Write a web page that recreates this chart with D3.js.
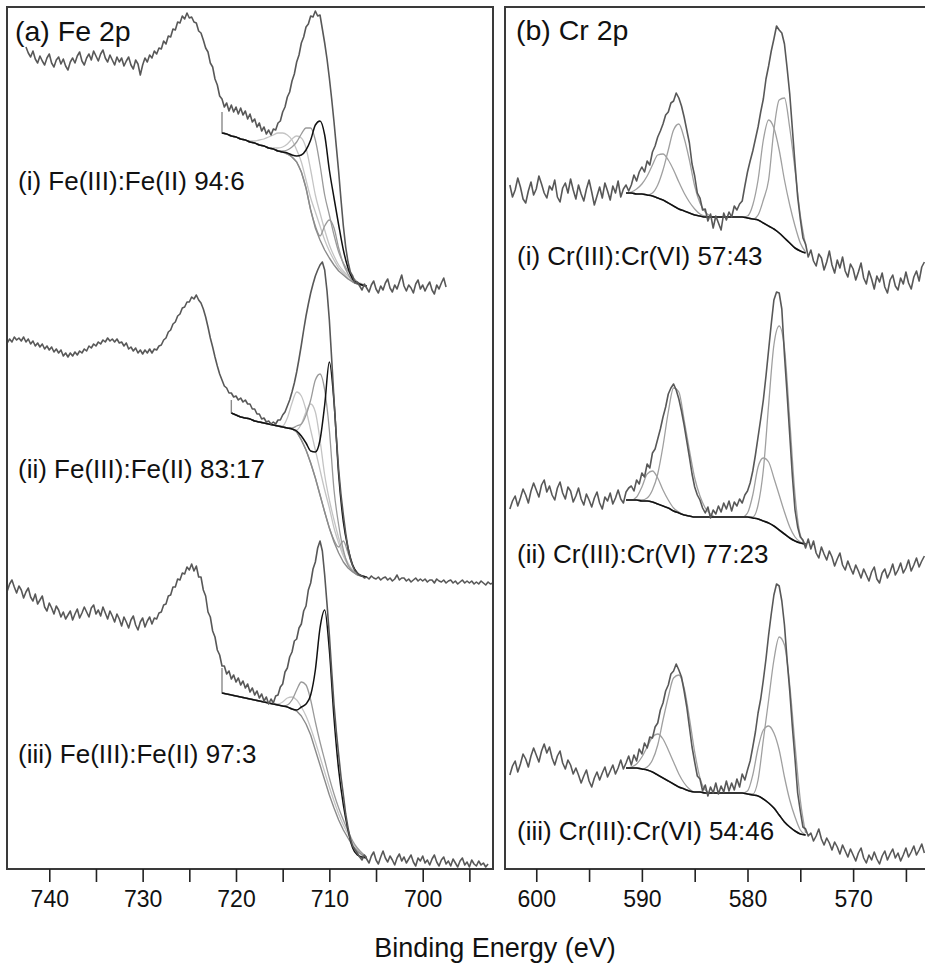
<!DOCTYPE html>
<html><head><meta charset="utf-8">
<script src="https://cdn.jsdelivr.net/npm/d3@7"></script>
<style>
body{margin:0;background:#fff;}
svg{display:block;font-family:"Liberation Sans",Arial,Helvetica,sans-serif;}
</style></head>
<body>
<svg id="chart" width="925" height="972"></svg>
<script>
// ---------------- DATA (intensity in arbitrary units, spectra stacked) ----------------
const RAW_STEP = 0.25;   // eV between raw data points
const FIT_STEP = 0.5;    // eV between fit-curve points

// Fe 2p raw spectra: start energy (eV) and intensities toward lower binding energy
const feRawStart = [742.5, 744.5, 744.5];
const feRawI = [
 [822,816, 812,818,810,806, 813,808,804,811, 815,806,802,809, 812,805,810,803, 799,807,811,806, 813,817,808,804, 811,815,809,818,
  813,808,815,819, 811,807,814,809, 804,812,807,811, 803,808,812,804, 800,809,805,794, 804,811,807,814, 811,818,815,821,
  820,828,825,833, 832,840,839,847, 846,853,850,856, 851,852,847,846, 838,836,829,821, 817,806,802,790, 784,773,770,762,
  766,758,764,757, 762,755,761,754, 758,750,755,747, 750,742,746,738, 742,735,739,734, 740,739,746,748, 757,762,772,777,
  788,795,807,814, 826,832,842,845, 853,852,858,853, 854,840,826,810, 791,770,747,722, 697,669,643,622, 607,597,593,586,
  587,583,579,585, 581,577,584,588, 580,576,583,579, 586,590,581,577, 584,580,587,594, 583,578,584,581, 576,585,589,580,
  584,578,583,587, 579,575,584,580, 586,591,582],
 [526,530, 527,532,529,531, 528,532,527,530, 525,528,523,526, 522,525,520,523, 519,522,517,520, 516,519,513,516, 512,516,513,517,
  514,518,516,520, 518,523,521,525, 523,527,525,529, 527,531,528,530, 527,530,526,527, 523,526,520,522, 518,521,516,519,
  515,519,516,520, 516,520,519,523, 524,529,531,537, 539,545,547,553, 555,561,562,567, 567,572,570,574, 569,566,560,552,
  542,531,522,512, 503,495,489,483, 481,476,476,472, 473,469,471,467, 469,465,465,460, 460,455,455,450, 451,447,448,445,
  447,445,449,449, 454,457,463,469, 477,486,497,510, 524,539,553,565, 576,585,593,599, 604,607,599,578, 549,510,469,432,
  399,374,354,336, 321,310,303,298, 296,294,293,291, 292,290,293,291, 290,292,289,291, 292,289,291,288, 290,294,289,291,
  291,288,290,287, 289,291,288,290, 288,290,287,289, 289,286,290,288, 287,289,286,288, 289,286,288,285, 287,289,286,288,
  286,288,285,287, 285,288,286,284, 287,285,286,284],
 [278,285, 289,282,276,283, 279,271,277,281, 272,268,275,265, 269,273,262,258, 266,261,255,263, 259,252,257,250, 254,258,249,255,
  260,251,256,262, 257,252,261,264, 255,259,253,262, 256,250,258,253, 247,255,250,243, 252,247,241,249, 253,244,239,247,
  251,242,248,252, 245,251,250,256, 257,264,265,273, 274,282,282,290, 289,296,295,302, 299,305,298,303, 292,292,279,273,
  257,252,238,232, 219,214,203,203, 195,198,190,194, 187,191,184,188, 181,185,177,181, 174,178,171,175, 168,172,165,170,
  166,173,174,182, 185,197,201,212, 217,228,230,241, 245,258,263,279, 286,300,307,321, 328,318,294,265, 234,198,164,137,
  114,92,74,55, 41,30,23,19, 16,12,9,14, 10,6,13,17, 9,5,12,18, 11,7,13,9, 4,11,15,8, 12,6,10,14, 7,3,11,8,
  13,6,9,4, 10,14,7,3, 9,12,5,8, 3,10,6,2, 8,11,4,7, 2,9,5,3, 8,4,6,2, 5]
];
// Fe 2p fit: energy grid start (eV), Shirley background anchor, background and components
const feFitStart = [721.5, 720.5, 721.5];
const feBgAnchor = [757, 469, 201];
const feBg = [
 [736,735,733,732,730,729,727,726,724,723,721,720,718,717,715,712,707,697,681,659,641,629,619,611,604,598,594,590,587,585,584,583],
 [456,454,452,451,450,448,447,446,445,444,443,442,441,440,437,429,419,406,391,374,357,341,327,316,307,301,297,294,293,292],
 [176,175,174,173,172,171,170,169,168,167,166,165,164,163,162,160,158,153,145,134,119,104,89,74,61,49,39,31,23,18,14,12]
];
// light grey components
const feLight = [
 [
  [736,735,733,732,730,729,728,728,729,730,732,734,736,736,734,729,719,707,689,671,657,643,629,618,609,601,596,591,588,585,584,583],
  [736,735,733,732,730,729,727,726,724,723,721,721,721,722,725,730,733,731,721,699,674,656,639,624,613,604,598,593,589,586,584,583]
 ],
 [
  [456,454,452,451,450,448,447,446,445,444,443,443,451,466,477,473,459,439,419,399,379,361,341,326,313,304,299,295,293,292],
  [456,454,452,451,450,448,447,446,445,444,443,442,441,440,439,445,457,465,457,429,394,369,349,331,316,306,299,295,293,292]
 ],
 [
  [176,175,174,173,172,171,170,169,168,167,166,165,165,167,171,172,169,162,153,141,127,112,97,82,68,55,44,35,26,20,15,12]
 ]
];
// mid grey components
const feMid = [
 [
  [736,735,733,732,730,729,727,726,724,723,721,720,718,718,719,722,727,735,741,741,729,704,674,654,634,617,606,598,592,587,585,583],
  [736,735,733,732,730,729,727,726,724,723,721,720,718,717,715,712,707,697,681,659,643,633,643,649,641,621,605,595,588,585,584,583]
 ],
 [
  [456,454,452,451,450,448,447,446,445,444,443,442,441,441,443,445,454,469,489,495,479,439,379,344,319,304,298,294,293,292],
  [456,454,452,451,450,448,447,446,445,444,443,442,441,440,437,429,419,406,391,374,357,341,329,322,328,316,303,296,293,292]
 ],
 [
  [176,175,174,173,172,171,170,169,168,167,166,165,164,163,164,169,179,187,184,169,147,127,109,91,75,61,49,38,28,21,16,12]
 ]
];
// black (Fe(II)-type) component
const feBlack = [
 [736,735,733,732,730,729,727,726,724,723,721,720,718,717,716,714,713,714,719,729,744,748,734,699,671,644,619,601,590,586,584,583],
 [456,454,452,451,450,448,447,446,445,444,443,442,441,440,438,433,426,418,417,429,464,507,467,394,347,321,304,296,293,292],
 [176,175,174,173,172,171,170,169,168,167,166,165,164,163,162,160,159,162,165,174,199,241,259,219,151,99,64,39,21,14,12,11]
];

// Cr 2p raw spectra: start 602.5 eV, every 0.25 eV
const crRawStart = [602.5, 602.5, 602.5];
const crRawI = [
 [684,672, 679,691,682,670, 666,678,687,674, 680,693,685,676, 671,683,679,689, 672,667,681,686, 676,690,679,670, 684,675,668,680,
  689,677,664,673, 682,671,686,678, 669,683,676,688, 672,680,684,678, 684,694,688,697, 702,697,708,704, 717,723,732,738,
  745,754,757,766, 768,776,771,763, 752,739,726,705, 693,676,671,659, 660,648,655,641, 653,646,639,656, 649,657,652,663,
  659,665,668,683, 697,708,718,730, 742,757,770,790, 803,818,830,843, 839,836,825,801, 775,740,705,672, 650,631,625,612,
  619,608,603,615, 611,599,607,618, 604,596,609,601, 612,598,592,605, 600,589,597,606, 591,585,598,590, 580,593,587,596,
  582,576,589,594, 583,579,591,585, 597,586,580,592, 598,588,602,607],
 [360,368, 373,363,371,380, 374,366,378,386, 379,372,384,389, 377,383,374,369, 381,387,376,370, 382,378,367,373, 381,370,364,375,
  369,362,371,377, 366,360,372,368, 376,365,371,379, 370,366,377,381, 383,378,389,385, 396,392,405,401, 416,420,430,440,
  452,462,475,481, 485,479,470,458, 444,428,412,395, 382,374,369,361, 356,362,351,359, 355,363,357,366, 360,368,358,367,
  363,370,366,374, 378,386,398,414, 432,450,469,493, 519,545,569,577, 576,560,514,475, 434,393,359,342, 332,329,321,330,
  320,328,316,311, 322,315,309,318, 312,303,310,316, 304,299,308,301, 295,304,298,291, 300,294,288,297, 302,290,286,296,
  300,291,297,305, 294,299,306,296, 301,309,298,304, 311,302,308,313],
 [94,103, 108,97,105,115, 110,102,113,121, 114,107,118,125, 116,122,111,104, 113,118,106,100, 109,104,95,101, 94,86,93,99,
  88,82,91,97, 89,96,102,92, 98,104,95,101, 109,100,106,113, 104,114,108,120, 115,126,121,132, 131,142,146,159,
  166,178,184,195, 198,205,199,192, 178,162,142,122, 107,93,90,78, 84,73,82,76, 86,75,83,77, 88,78,86,79,
  90,82,95,89, 99,108,122,137, 156,170,189,210, 234,255,274,285, 283,268,244,209, 178,142,110,76, 58,42,40,33,
  36,28,33,40, 30,24,31,26, 19,27,22,15, 24,18,12,20, 14,8,16,21, 11,6,14,9, 17,10,5,13,
  18,9,15,20, 11,16,8,14, 21,12,17,23, 14,19,25,16]
];
// Cr 2p fit grid: 591.5 -> 574.5 eV every 0.5 eV
const crFitStart = 591.5;
const crBg = [
 [676,676,675,675,674,673,671,669,666,663,660,658,656,654,653,652,652,652,652,652,652,652,652,651,650,649,646,643,640,636,631,626,621,618,616],
 [369,369,369,368,368,367,365,363,361,358,356,354,353,352,352,352,352,352,352,352,352,352,352,352,351,350,348,346,343,339,335,331,328,326,325],
 [101,101,101,100,99,97,94,91,88,85,82,80,78,77,77,76,76,76,76,76,76,76,76,75,74,73,70,66,61,54,47,42,38,35,34]
];
// components: Cr(VI) 2p1/2, Cr(III) 2p1/2, Cr(VI) 2p3/2, Cr(III) 2p3/2
const crComp = [
 [
  [676,677,680,685,693,704,714,715,709,699,687,676,667,660,655,653,652,652,652,652,652,652,652,651,650,649,646,643,640,636,631,626,621,618,616],
  [676,676,675,675,674,676,684,699,719,739,745,731,709,683,666,657,653,652,652,652,652,652,652,651,650,649,646,643,640,636,631,626,621,618,616],
  [676,676,675,675,674,673,671,669,666,663,660,658,656,654,653,652,652,652,652,652,652,652,652,653,664,689,729,749,741,719,689,664,643,626,617],
  [676,676,675,675,674,673,671,669,666,663,660,658,656,654,653,652,652,652,652,652,652,652,652,651,650,654,669,689,739,769,771,741,699,654,624]
 ],
 [
  [369,369,372,382,395,398,391,379,369,361,357,354,353,352,352,352,352,352,352,352,352,352,352,352,351,350,348,346,343,339,335,331,328,326,325],
  [369,369,369,369,371,379,395,423,457,481,477,449,419,391,373,361,355,352,352,352,352,352,352,352,351,350,348,346,343,339,335,331,328,326,325],
  [369,369,369,368,368,367,365,363,361,358,356,354,353,352,352,352,352,352,352,352,352,352,352,356,374,402,411,407,391,374,357,342,332,327,325],
  [369,369,369,368,368,367,365,363,361,358,356,354,353,352,352,352,352,352,352,352,352,352,352,352,352,364,399,464,524,543,521,449,374,334,325]
 ],
 [
  [101,102,105,112,122,132,135,130,119,107,95,86,80,77,77,76,76,76,76,76,76,76,76,75,74,73,70,66,61,54,47,42,38,35,34],
  [101,101,101,100,102,109,124,149,172,191,194,181,151,117,91,79,76,76,76,76,76,76,76,75,74,73,70,66,61,54,47,42,38,35,34],
  [101,101,101,100,99,97,94,91,88,85,82,80,78,77,77,76,76,76,76,76,76,76,76,78,94,121,139,143,136,119,92,69,52,39,34],
  [101,101,101,100,99,97,94,91,88,85,82,80,78,77,77,76,76,76,76,76,76,76,76,75,75,89,129,169,209,232,224,184,124,69,36]
 ]
];

const panelTitles = ["(a) Fe 2p", "(b) Cr 2p"];
const feLabels = ["(i) Fe(III):Fe(II) 94:6", "(ii) Fe(III):Fe(II) 83:17", "(iii) Fe(III):Fe(II) 97:3"];
const crLabels = ["(i) Cr(III):Cr(VI) 57:43", "(ii) Cr(III):Cr(VI) 77:23", "(iii) Cr(III):Cr(VI) 54:46"];
const feLabelLevels = [679, 391, 106];   // intensity level of label baseline
const crLabelLevels = [604, 306, 29];
const feTicks = [740,735,730,725,720,715,710,705,700,695];
const crTicks = [600,595,590,585,580,575,570,565];
const xTitle = "Binding Energy (eV)";

// ---------------- LAYOUT ----------------
(function(){
const svg = d3.select("#chart");
const topY = 7, bottomY = 869;
const y = d3.scaleLinear().domain([0, 862]).range([bottomY, topY]);
const xFe = d3.scaleLinear().domain([744.53, 692.47]).range([7, 493]);
const xCr = d3.scaleLinear().domain([602.96, 562.72]).range([505, 930]);

const col = {raw:"#585858", light:"#c4c4c4", mid:"#9a9a9a", feBg:"#8a8a8a", black:"#111", crBg:"#111", crComp:"#a0a0a0", frame:"#3a3a3a"};

const defs = svg.append("defs");
defs.append("clipPath").attr("id","clipFe").append("rect").attr("x",8).attr("y",topY+1).attr("width",484).attr("height",bottomY-topY-2);
defs.append("clipPath").attr("id","clipCr").append("rect").attr("x",506).attr("y",topY+1).attr("width",430).attr("height",bottomY-topY-2);

function series(start, step, vals){ return vals.map((v,i)=>({e:start - i*step, v:v})); }
function drawLine(g, x, data, color, width, curve){
  g.append("path").datum(data)
   .attr("fill","none").attr("stroke",color).attr("stroke-width",width)
   .attr("stroke-linejoin","round")
   .attr("d", d3.line().x(d=>x(d.e)).y(d=>y(d.v)).curve(curve||d3.curveLinear));
}

// ---- Fe panel ----
const gFe = svg.append("g").attr("clip-path","url(#clipFe)");
for(let s=0;s<3;s++){
  const st = feFitStart[s];
  feLight[s].forEach(c=>drawLine(gFe,xFe,series(st,FIT_STEP,c),col.light,1.3,d3.curveMonotoneX));
  feMid[s].forEach(c=>drawLine(gFe,xFe,series(st,FIT_STEP,c),col.mid,1.3,d3.curveMonotoneX));
  const bg = series(st, FIT_STEP, feBg[s]);
  drawLine(gFe,xFe,[{e:st,v:feBgAnchor[s]}].concat(bg),col.feBg,1.4,d3.curveLinear);
  drawLine(gFe,xFe,series(st,FIT_STEP,feBlack[s]),col.black,1.5,d3.curveMonotoneX);
  drawLine(gFe,xFe,series(feRawStart[s],RAW_STEP,feRawI[s]),col.raw,1.6,d3.curveLinear);
}
// ---- Cr panel ----
const gCr = svg.append("g").attr("clip-path","url(#clipCr)");
for(let s=0;s<3;s++){
  crComp[s].forEach(c=>drawLine(gCr,xCr,series(crFitStart,FIT_STEP,c),col.crComp,1.3,d3.curveMonotoneX));
  drawLine(gCr,xCr,series(crFitStart,FIT_STEP,crBg[s]),col.crBg,1.6,d3.curveMonotoneX);
  drawLine(gCr,xCr,series(crRawStart[s],RAW_STEP,crRawI[s]),col.raw,1.6,d3.curveLinear);
}

// frames
svg.append("rect").attr("x",7).attr("y",topY).attr("width",486).attr("height",bottomY-topY)
  .attr("fill","none").attr("stroke",col.frame).attr("stroke-width",2);
svg.append("path").attr("d",`M930,${topY}H505V${bottomY}H930`)
  .attr("fill","none").attr("stroke",col.frame).attr("stroke-width",2);

// axes
function axis(x, ticks){
  const a = d3.axisBottom(x).tickValues(ticks).tickSize(13).tickPadding(9)
    .tickFormat(d=> d%10===0 ? d3.format("d")(d) : "");
  const g = svg.append("g").attr("transform",`translate(0,${bottomY})`).call(a);
  g.select(".domain").remove();
  g.selectAll(".tick line").attr("stroke","#222").attr("stroke-width",1.6);
  g.selectAll(".tick text").attr("font-size",23).attr("fill","#111")
    .attr("font-family","'Liberation Sans',Arial,sans-serif");
}
axis(xFe, feTicks);
axis(xCr, crTicks);

// texts
svg.append("text").attr("x",15).attr("y",41).attr("font-size",28.5).attr("fill","#111").text(panelTitles[0]);
svg.append("text").attr("x",516).attr("y",40).attr("font-size",28.5).attr("fill","#111").text(panelTitles[1]);
feLabels.forEach((t,i)=>svg.append("text").attr("x",18).attr("y",y(feLabelLevels[i])).attr("font-size",26).attr("fill","#111").text(t));
crLabels.forEach((t,i)=>svg.append("text").attr("x",517).attr("y",y(crLabelLevels[i])).attr("font-size",26).attr("fill","#111").text(t));
svg.append("text").attr("x",495).attr("y",957).attr("text-anchor","middle").attr("font-size",27).attr("fill","#111").text(xTitle);
})();
</script>
</body></html>
